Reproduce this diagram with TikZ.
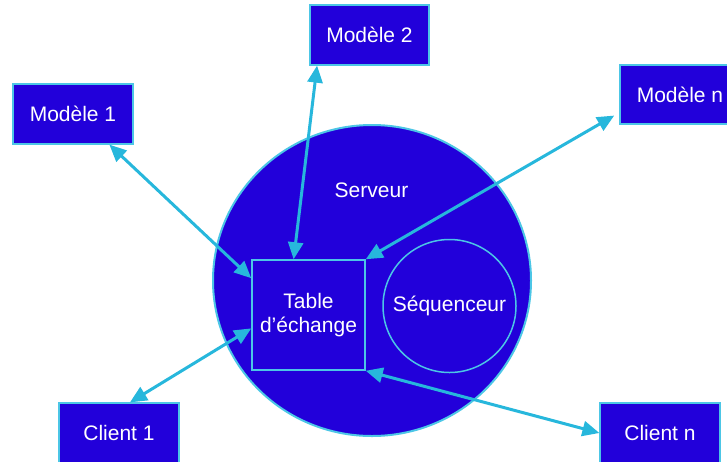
\documentclass[tikz,border=0pt]{standalone}
\usepackage{fontspec}
\setmainfont{Liberation Sans}
\usetikzlibrary{arrows.meta,calc,shapes.geometric}
\definecolor{fillblue}{HTML}{2200DA}
\definecolor{arrowcyan}{HTML}{27B7DC}
\definecolor{edgecyan}{HTML}{4CC6E6}
\tikzset{
  box/.style={draw=edgecyan, line width=1.2pt, fill=fillblue, text=white,
    minimum width=120pt, minimum height=60pt, inner sep=0pt,
    font=\fontsize{21}{24}\selectfont},
  link/.style={draw=arrowcyan, line width=3pt,
    {Triangle[length=17pt,width=15pt]}-{Triangle[length=17pt,width=15pt]}},
}
\begin{document}
\begin{tikzpicture}[x=1pt,y=-1pt]
\useasboundingbox (0,0) rectangle (727,461);
% server
\node[ellipse, draw=edgecyan, line width=2pt, fill=fillblue,
  minimum width=318pt, minimum height=311pt, inner sep=0pt] (srv) at (372,280.5) {};
\node[text=white, font=\fontsize{21}{24}\selectfont] (srvlab) at (371.5,190) {Serveur};
% table
\node[draw=edgecyan, line width=1.5pt, fill=fillblue, text=white, align=center,
  minimum width=113pt, minimum height=110pt, inner sep=0pt,
  font=\fontsize{21}{24}\selectfont] (tab) at (308.5,315) {Table\\d’échange};
% sequencer
\node[circle, draw=edgecyan, line width=1.5pt, text=white, minimum size=133pt,
  inner sep=0pt, font=\fontsize{21}{24}\selectfont] (seq) at (449.5,306) {Séquenceur};
% outer boxes
\node[box, minimum height=60pt] (m1) at (73,114) {Modèle 1};
\node[box, minimum width=119pt] (m2) at (369.5,35) {Modèle 2};
\node[box, minimum height=59pt] (mn) at (680,94.5) {Modèle n};
\node[box] (c1) at (119,433) {Client 1};
\node[box] (cn) at (660,433) {Client n};
% connectors
\draw[link] ($(m1.south west)!0.8!(m1.south east)$) -- ($(tab.north west)!0.17!(tab.south west)$);
\draw[link] ($(m2.south west)!0.064!(m2.south east)$) -- ($(tab.north west)!0.37!(tab.north east)$);
\draw[link, shorten <=6pt] ($(mn.north west)!0.8!(mn.south west)$) -- (tab.north east);
\draw[link] ($(c1.north west)!0.59!(c1.north east)$) -- ($(tab.north west)!0.62!(tab.south west)$);
\draw[link] (cn.west) -- (tab.south east);
\end{tikzpicture}
\end{document}
